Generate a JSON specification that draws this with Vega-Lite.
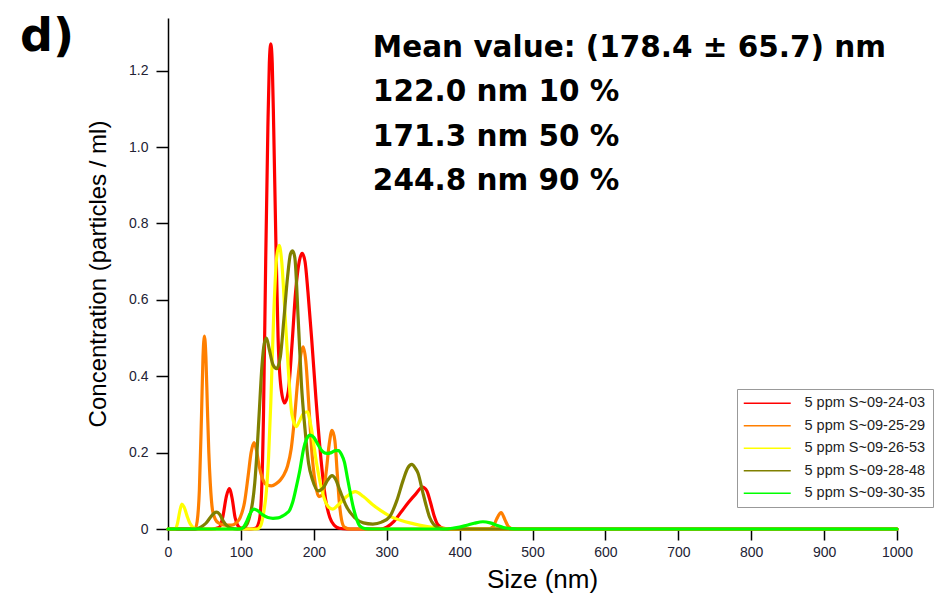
{
  "$schema": "https://vega.github.io/schema/vega-lite/v6.json",
  "width": 729,
  "height": 511,
  "autosize": {"type": "none"},
  "padding": {"left": 168, "top": 18, "right": 38, "bottom": 69},
  "background": "white",
  "title": {"text": "d)", "anchor": "start", "frame": "group", "font": "DejaVu Sans", "fontWeight": "bold", "fontSize": 46, "color": "black", "dx": -148, "dy": 79, "baseline": "alphabetic", "offset": 0},
  "config": {
    "view": {"stroke": null},
    "axis": {"labelFont": "Liberation Sans", "titleFont": "Liberation Sans", "labelFontSize": 14, "titleFontSize": 24, "titleFontWeight": "normal", "labelColor": "#222233", "titleColor": "black", "domainColor": "black", "tickColor": "black", "domainWidth": 1.5, "tickWidth": 1.5, "grid": false}
  },
  "datasets": {
    "curves": [
      {"s": "5 ppm S~09-24-03", "x": 0, "y": 0}, {"s": "5 ppm S~09-24-03", "x": 60, "y": 0}, {"s": "5 ppm S~09-24-03", "x": 70, "y": 0.004}, {"s": "5 ppm S~09-24-03", "x": 75, "y": 0.03}, {"s": "5 ppm S~09-24-03", "x": 80, "y": 0.085}, {"s": "5 ppm S~09-24-03", "x": 84, "y": 0.106}, {"s": "5 ppm S~09-24-03", "x": 88, "y": 0.08}, {"s": "5 ppm S~09-24-03", "x": 92, "y": 0.03}, {"s": "5 ppm S~09-24-03", "x": 96, "y": 0.008}, {"s": "5 ppm S~09-24-03", "x": 100, "y": 0.002}, {"s": "5 ppm S~09-24-03", "x": 112, "y": 0}, {"s": "5 ppm S~09-24-03", "x": 120, "y": 0.002}, {"s": "5 ppm S~09-24-03", "x": 125, "y": 0.02}, {"s": "5 ppm S~09-24-03", "x": 128, "y": 0.08}, {"s": "5 ppm S~09-24-03", "x": 131, "y": 0.3}, {"s": "5 ppm S~09-24-03", "x": 134, "y": 0.7}, {"s": "5 ppm S~09-24-03", "x": 137, "y": 1.05}, {"s": "5 ppm S~09-24-03", "x": 139, "y": 1.22}, {"s": "5 ppm S~09-24-03", "x": 141, "y": 1.27}, {"s": "5 ppm S~09-24-03", "x": 143, "y": 1.22}, {"s": "5 ppm S~09-24-03", "x": 145, "y": 1.05}, {"s": "5 ppm S~09-24-03", "x": 148, "y": 0.75}, {"s": "5 ppm S~09-24-03", "x": 151, "y": 0.5}, {"s": "5 ppm S~09-24-03", "x": 155, "y": 0.37}, {"s": "5 ppm S~09-24-03", "x": 160, "y": 0.33}, {"s": "5 ppm S~09-24-03", "x": 165, "y": 0.36}, {"s": "5 ppm S~09-24-03", "x": 170, "y": 0.48}, {"s": "5 ppm S~09-24-03", "x": 175, "y": 0.62}, {"s": "5 ppm S~09-24-03", "x": 180, "y": 0.7}, {"s": "5 ppm S~09-24-03", "x": 184, "y": 0.722}, {"s": "5 ppm S~09-24-03", "x": 188, "y": 0.7}, {"s": "5 ppm S~09-24-03", "x": 192, "y": 0.62}, {"s": "5 ppm S~09-24-03", "x": 197, "y": 0.5}, {"s": "5 ppm S~09-24-03", "x": 203, "y": 0.34}, {"s": "5 ppm S~09-24-03", "x": 210, "y": 0.18}, {"s": "5 ppm S~09-24-03", "x": 216, "y": 0.08}, {"s": "5 ppm S~09-24-03", "x": 222, "y": 0.03}, {"s": "5 ppm S~09-24-03", "x": 228, "y": 0.01}, {"s": "5 ppm S~09-24-03", "x": 235, "y": 0.002}, {"s": "5 ppm S~09-24-03", "x": 245, "y": 0}, {"s": "5 ppm S~09-24-03", "x": 292, "y": 0}, {"s": "5 ppm S~09-24-03", "x": 300, "y": 0.005}, {"s": "5 ppm S~09-24-03", "x": 310, "y": 0.02}, {"s": "5 ppm S~09-24-03", "x": 320, "y": 0.045}, {"s": "5 ppm S~09-24-03", "x": 330, "y": 0.07}, {"s": "5 ppm S~09-24-03", "x": 340, "y": 0.092}, {"s": "5 ppm S~09-24-03", "x": 349, "y": 0.11}, {"s": "5 ppm S~09-24-03", "x": 355, "y": 0.1}, {"s": "5 ppm S~09-24-03", "x": 360, "y": 0.07}, {"s": "5 ppm S~09-24-03", "x": 365, "y": 0.035}, {"s": "5 ppm S~09-24-03", "x": 370, "y": 0.012}, {"s": "5 ppm S~09-24-03", "x": 378, "y": 0.002}, {"s": "5 ppm S~09-24-03", "x": 390, "y": 0}, {"s": "5 ppm S~09-24-03", "x": 1000, "y": 0},

      {"s": "5 ppm S~09-25-29", "x": 0, "y": 0}, {"s": "5 ppm S~09-25-29", "x": 37, "y": 0}, {"s": "5 ppm S~09-25-29", "x": 40, "y": 0.02}, {"s": "5 ppm S~09-25-29", "x": 43, "y": 0.1}, {"s": "5 ppm S~09-25-29", "x": 46, "y": 0.3}, {"s": "5 ppm S~09-25-29", "x": 48, "y": 0.45}, {"s": "5 ppm S~09-25-29", "x": 50, "y": 0.505}, {"s": "5 ppm S~09-25-29", "x": 52, "y": 0.45}, {"s": "5 ppm S~09-25-29", "x": 54, "y": 0.32}, {"s": "5 ppm S~09-25-29", "x": 56, "y": 0.2}, {"s": "5 ppm S~09-25-29", "x": 58, "y": 0.12}, {"s": "5 ppm S~09-25-29", "x": 61, "y": 0.05}, {"s": "5 ppm S~09-25-29", "x": 65, "y": 0.025}, {"s": "5 ppm S~09-25-29", "x": 70, "y": 0.015}, {"s": "5 ppm S~09-25-29", "x": 78, "y": 0.01}, {"s": "5 ppm S~09-25-29", "x": 87, "y": 0.01}, {"s": "5 ppm S~09-25-29", "x": 93, "y": 0.015}, {"s": "5 ppm S~09-25-29", "x": 99, "y": 0.03}, {"s": "5 ppm S~09-25-29", "x": 105, "y": 0.07}, {"s": "5 ppm S~09-25-29", "x": 110, "y": 0.14}, {"s": "5 ppm S~09-25-29", "x": 114, "y": 0.2}, {"s": "5 ppm S~09-25-29", "x": 118, "y": 0.226}, {"s": "5 ppm S~09-25-29", "x": 121, "y": 0.21}, {"s": "5 ppm S~09-25-29", "x": 125, "y": 0.165}, {"s": "5 ppm S~09-25-29", "x": 130, "y": 0.13}, {"s": "5 ppm S~09-25-29", "x": 136, "y": 0.115}, {"s": "5 ppm S~09-25-29", "x": 142, "y": 0.113}, {"s": "5 ppm S~09-25-29", "x": 148, "y": 0.118}, {"s": "5 ppm S~09-25-29", "x": 154, "y": 0.128}, {"s": "5 ppm S~09-25-29", "x": 159, "y": 0.142}, {"s": "5 ppm S~09-25-29", "x": 164, "y": 0.165}, {"s": "5 ppm S~09-25-29", "x": 169, "y": 0.21}, {"s": "5 ppm S~09-25-29", "x": 174, "y": 0.3}, {"s": "5 ppm S~09-25-29", "x": 178, "y": 0.39}, {"s": "5 ppm S~09-25-29", "x": 182, "y": 0.455}, {"s": "5 ppm S~09-25-29", "x": 185.5, "y": 0.477}, {"s": "5 ppm S~09-25-29", "x": 189, "y": 0.44}, {"s": "5 ppm S~09-25-29", "x": 193, "y": 0.33}, {"s": "5 ppm S~09-25-29", "x": 197, "y": 0.21}, {"s": "5 ppm S~09-25-29", "x": 202, "y": 0.12}, {"s": "5 ppm S~09-25-29", "x": 207, "y": 0.085}, {"s": "5 ppm S~09-25-29", "x": 212, "y": 0.09}, {"s": "5 ppm S~09-25-29", "x": 217, "y": 0.15}, {"s": "5 ppm S~09-25-29", "x": 221, "y": 0.22}, {"s": "5 ppm S~09-25-29", "x": 225, "y": 0.258}, {"s": "5 ppm S~09-25-29", "x": 229, "y": 0.23}, {"s": "5 ppm S~09-25-29", "x": 232, "y": 0.15}, {"s": "5 ppm S~09-25-29", "x": 235, "y": 0.07}, {"s": "5 ppm S~09-25-29", "x": 238, "y": 0.025}, {"s": "5 ppm S~09-25-29", "x": 242, "y": 0.005}, {"s": "5 ppm S~09-25-29", "x": 250, "y": 0}, {"s": "5 ppm S~09-25-29", "x": 440, "y": 0}, {"s": "5 ppm S~09-25-29", "x": 446, "y": 0.006}, {"s": "5 ppm S~09-25-29", "x": 451, "y": 0.027}, {"s": "5 ppm S~09-25-29", "x": 457, "y": 0.043}, {"s": "5 ppm S~09-25-29", "x": 462, "y": 0.025}, {"s": "5 ppm S~09-25-29", "x": 467, "y": 0.006}, {"s": "5 ppm S~09-25-29", "x": 473, "y": 0}, {"s": "5 ppm S~09-25-29", "x": 1000, "y": 0},

      {"s": "5 ppm S~09-26-53", "x": 0, "y": 0}, {"s": "5 ppm S~09-26-53", "x": 10, "y": 0}, {"s": "5 ppm S~09-26-53", "x": 13, "y": 0.015}, {"s": "5 ppm S~09-26-53", "x": 16, "y": 0.045}, {"s": "5 ppm S~09-26-53", "x": 19, "y": 0.065}, {"s": "5 ppm S~09-26-53", "x": 22, "y": 0.058}, {"s": "5 ppm S~09-26-53", "x": 26, "y": 0.035}, {"s": "5 ppm S~09-26-53", "x": 30, "y": 0.015}, {"s": "5 ppm S~09-26-53", "x": 34, "y": 0.005}, {"s": "5 ppm S~09-26-53", "x": 40, "y": 0}, {"s": "5 ppm S~09-26-53", "x": 122, "y": 0}, {"s": "5 ppm S~09-26-53", "x": 127, "y": 0.008}, {"s": "5 ppm S~09-26-53", "x": 131, "y": 0.04}, {"s": "5 ppm S~09-26-53", "x": 135, "y": 0.1}, {"s": "5 ppm S~09-26-53", "x": 138, "y": 0.19}, {"s": "5 ppm S~09-26-53", "x": 141, "y": 0.33}, {"s": "5 ppm S~09-26-53", "x": 145, "y": 0.56}, {"s": "5 ppm S~09-26-53", "x": 149, "y": 0.71}, {"s": "5 ppm S~09-26-53", "x": 152.6, "y": 0.743}, {"s": "5 ppm S~09-26-53", "x": 156, "y": 0.7}, {"s": "5 ppm S~09-26-53", "x": 160, "y": 0.58}, {"s": "5 ppm S~09-26-53", "x": 165, "y": 0.42}, {"s": "5 ppm S~09-26-53", "x": 170, "y": 0.3}, {"s": "5 ppm S~09-26-53", "x": 176, "y": 0.268}, {"s": "5 ppm S~09-26-53", "x": 181, "y": 0.285}, {"s": "5 ppm S~09-26-53", "x": 186, "y": 0.303}, {"s": "5 ppm S~09-26-53", "x": 191, "y": 0.307}, {"s": "5 ppm S~09-26-53", "x": 196, "y": 0.27}, {"s": "5 ppm S~09-26-53", "x": 204, "y": 0.17}, {"s": "5 ppm S~09-26-53", "x": 210, "y": 0.11}, {"s": "5 ppm S~09-26-53", "x": 215, "y": 0.076}, {"s": "5 ppm S~09-26-53", "x": 220, "y": 0.058}, {"s": "5 ppm S~09-26-53", "x": 226, "y": 0.052}, {"s": "5 ppm S~09-26-53", "x": 233, "y": 0.062}, {"s": "5 ppm S~09-26-53", "x": 245, "y": 0.085}, {"s": "5 ppm S~09-26-53", "x": 257, "y": 0.098}, {"s": "5 ppm S~09-26-53", "x": 268, "y": 0.085}, {"s": "5 ppm S~09-26-53", "x": 280, "y": 0.065}, {"s": "5 ppm S~09-26-53", "x": 292, "y": 0.048}, {"s": "5 ppm S~09-26-53", "x": 305, "y": 0.033}, {"s": "5 ppm S~09-26-53", "x": 320, "y": 0.022}, {"s": "5 ppm S~09-26-53", "x": 336, "y": 0.014}, {"s": "5 ppm S~09-26-53", "x": 350, "y": 0.008}, {"s": "5 ppm S~09-26-53", "x": 365, "y": 0.004}, {"s": "5 ppm S~09-26-53", "x": 380, "y": 0.001}, {"s": "5 ppm S~09-26-53", "x": 400, "y": 0}, {"s": "5 ppm S~09-26-53", "x": 1000, "y": 0},

      {"s": "5 ppm S~09-28-48", "x": 0, "y": 0}, {"s": "5 ppm S~09-28-48", "x": 38, "y": 0}, {"s": "5 ppm S~09-28-48", "x": 45, "y": 0.005}, {"s": "5 ppm S~09-28-48", "x": 52, "y": 0.015}, {"s": "5 ppm S~09-28-48", "x": 58, "y": 0.03}, {"s": "5 ppm S~09-28-48", "x": 63, "y": 0.041}, {"s": "5 ppm S~09-28-48", "x": 67, "y": 0.044}, {"s": "5 ppm S~09-28-48", "x": 71, "y": 0.038}, {"s": "5 ppm S~09-28-48", "x": 76, "y": 0.02}, {"s": "5 ppm S~09-28-48", "x": 81, "y": 0.008}, {"s": "5 ppm S~09-28-48", "x": 87, "y": 0.002}, {"s": "5 ppm S~09-28-48", "x": 95, "y": 0}, {"s": "5 ppm S~09-28-48", "x": 104, "y": 0.004}, {"s": "5 ppm S~09-28-48", "x": 109, "y": 0.015}, {"s": "5 ppm S~09-28-48", "x": 113, "y": 0.04}, {"s": "5 ppm S~09-28-48", "x": 116, "y": 0.07}, {"s": "5 ppm S~09-28-48", "x": 119, "y": 0.12}, {"s": "5 ppm S~09-28-48", "x": 122, "y": 0.2}, {"s": "5 ppm S~09-28-48", "x": 125, "y": 0.3}, {"s": "5 ppm S~09-28-48", "x": 129, "y": 0.43}, {"s": "5 ppm S~09-28-48", "x": 132, "y": 0.485}, {"s": "5 ppm S~09-28-48", "x": 135, "y": 0.5}, {"s": "5 ppm S~09-28-48", "x": 139, "y": 0.47}, {"s": "5 ppm S~09-28-48", "x": 144, "y": 0.43}, {"s": "5 ppm S~09-28-48", "x": 149, "y": 0.42}, {"s": "5 ppm S~09-28-48", "x": 154, "y": 0.45}, {"s": "5 ppm S~09-28-48", "x": 159, "y": 0.55}, {"s": "5 ppm S~09-28-48", "x": 164, "y": 0.66}, {"s": "5 ppm S~09-28-48", "x": 168, "y": 0.72}, {"s": "5 ppm S~09-28-48", "x": 171, "y": 0.728}, {"s": "5 ppm S~09-28-48", "x": 174, "y": 0.71}, {"s": "5 ppm S~09-28-48", "x": 178.6, "y": 0.55}, {"s": "5 ppm S~09-28-48", "x": 183, "y": 0.38}, {"s": "5 ppm S~09-28-48", "x": 188, "y": 0.26}, {"s": "5 ppm S~09-28-48", "x": 193, "y": 0.17}, {"s": "5 ppm S~09-28-48", "x": 198, "y": 0.13}, {"s": "5 ppm S~09-28-48", "x": 206, "y": 0.1}, {"s": "5 ppm S~09-28-48", "x": 213, "y": 0.108}, {"s": "5 ppm S~09-28-48", "x": 219, "y": 0.128}, {"s": "5 ppm S~09-28-48", "x": 225, "y": 0.14}, {"s": "5 ppm S~09-28-48", "x": 230, "y": 0.13}, {"s": "5 ppm S~09-28-48", "x": 236, "y": 0.1}, {"s": "5 ppm S~09-28-48", "x": 245, "y": 0.058}, {"s": "5 ppm S~09-28-48", "x": 256, "y": 0.03}, {"s": "5 ppm S~09-28-48", "x": 268, "y": 0.016}, {"s": "5 ppm S~09-28-48", "x": 281, "y": 0.013}, {"s": "5 ppm S~09-28-48", "x": 293, "y": 0.018}, {"s": "5 ppm S~09-28-48", "x": 304, "y": 0.032}, {"s": "5 ppm S~09-28-48", "x": 314, "y": 0.075}, {"s": "5 ppm S~09-28-48", "x": 322.6, "y": 0.128}, {"s": "5 ppm S~09-28-48", "x": 329, "y": 0.16}, {"s": "5 ppm S~09-28-48", "x": 334.5, "y": 0.169}, {"s": "5 ppm S~09-28-48", "x": 339, "y": 0.16}, {"s": "5 ppm S~09-28-48", "x": 343, "y": 0.146}, {"s": "5 ppm S~09-28-48", "x": 349, "y": 0.1}, {"s": "5 ppm S~09-28-48", "x": 354.6, "y": 0.058}, {"s": "5 ppm S~09-28-48", "x": 359, "y": 0.03}, {"s": "5 ppm S~09-28-48", "x": 364, "y": 0.013}, {"s": "5 ppm S~09-28-48", "x": 370, "y": 0.004}, {"s": "5 ppm S~09-28-48", "x": 378, "y": 0}, {"s": "5 ppm S~09-28-48", "x": 1000, "y": 0},

      {"s": "5 ppm S~09-30-35", "x": 0, "y": 0}, {"s": "5 ppm S~09-30-35", "x": 99, "y": 0}, {"s": "5 ppm S~09-30-35", "x": 104, "y": 0.006}, {"s": "5 ppm S~09-30-35", "x": 108, "y": 0.02}, {"s": "5 ppm S~09-30-35", "x": 113, "y": 0.042}, {"s": "5 ppm S~09-30-35", "x": 118, "y": 0.052}, {"s": "5 ppm S~09-30-35", "x": 123, "y": 0.048}, {"s": "5 ppm S~09-30-35", "x": 130, "y": 0.037}, {"s": "5 ppm S~09-30-35", "x": 137, "y": 0.03}, {"s": "5 ppm S~09-30-35", "x": 144, "y": 0.028}, {"s": "5 ppm S~09-30-35", "x": 151, "y": 0.029}, {"s": "5 ppm S~09-30-35", "x": 157, "y": 0.034}, {"s": "5 ppm S~09-30-35", "x": 162, "y": 0.04}, {"s": "5 ppm S~09-30-35", "x": 167, "y": 0.05}, {"s": "5 ppm S~09-30-35", "x": 171, "y": 0.07}, {"s": "5 ppm S~09-30-35", "x": 176, "y": 0.11}, {"s": "5 ppm S~09-30-35", "x": 181, "y": 0.155}, {"s": "5 ppm S~09-30-35", "x": 186, "y": 0.21}, {"s": "5 ppm S~09-30-35", "x": 190, "y": 0.235}, {"s": "5 ppm S~09-30-35", "x": 195, "y": 0.246}, {"s": "5 ppm S~09-30-35", "x": 200, "y": 0.24}, {"s": "5 ppm S~09-30-35", "x": 206, "y": 0.22}, {"s": "5 ppm S~09-30-35", "x": 212, "y": 0.203}, {"s": "5 ppm S~09-30-35", "x": 218, "y": 0.198}, {"s": "5 ppm S~09-30-35", "x": 224, "y": 0.2}, {"s": "5 ppm S~09-30-35", "x": 230, "y": 0.205}, {"s": "5 ppm S~09-30-35", "x": 234, "y": 0.205}, {"s": "5 ppm S~09-30-35", "x": 238, "y": 0.195}, {"s": "5 ppm S~09-30-35", "x": 242, "y": 0.175}, {"s": "5 ppm S~09-30-35", "x": 246, "y": 0.135}, {"s": "5 ppm S~09-30-35", "x": 250, "y": 0.095}, {"s": "5 ppm S~09-30-35", "x": 254, "y": 0.058}, {"s": "5 ppm S~09-30-35", "x": 258, "y": 0.03}, {"s": "5 ppm S~09-30-35", "x": 263, "y": 0.008}, {"s": "5 ppm S~09-30-35", "x": 270, "y": 0.001}, {"s": "5 ppm S~09-30-35", "x": 280, "y": 0}, {"s": "5 ppm S~09-30-35", "x": 380, "y": 0}, {"s": "5 ppm S~09-30-35", "x": 390, "y": 0.002}, {"s": "5 ppm S~09-30-35", "x": 400, "y": 0.005}, {"s": "5 ppm S~09-30-35", "x": 410, "y": 0.01}, {"s": "5 ppm S~09-30-35", "x": 420, "y": 0.015}, {"s": "5 ppm S~09-30-35", "x": 432, "y": 0.019}, {"s": "5 ppm S~09-30-35", "x": 442, "y": 0.016}, {"s": "5 ppm S~09-30-35", "x": 452, "y": 0.009}, {"s": "5 ppm S~09-30-35", "x": 460, "y": 0.004}, {"s": "5 ppm S~09-30-35", "x": 470, "y": 0.001}, {"s": "5 ppm S~09-30-35", "x": 480, "y": 0}, {"s": "5 ppm S~09-30-35", "x": 1000, "y": 0}
    ],
    "stats": [
      {"lines": ["Mean value: (178.4 ± 65.7) nm", "122.0 nm 10 %", "171.3 nm 50 %", "244.8 nm 90 %"]}
    ]
  },
  "layer": [
    {
      "data": {"name": "curves"},
      "mark": {"type": "line", "interpolate": "monotone", "strokeWidth": 3.2, "strokeJoin": "round", "strokeCap": "round"},
      "encoding": {
        "x": {"field": "x", "type": "quantitative", "scale": {"domain": [0, 1000], "nice": false}, "axis": {"title": "Size (nm)", "format": "d", "values": [0, 100, 200, 300, 400, 500, 600, 700, 800, 900, 1000], "tickSize": 11, "labelPadding": 5, "titlePadding": 7, "titleFontSize": 26, "titleX": 374, "labelFlush": false}},
        "y": {"field": "y", "type": "quantitative", "scale": {"domain": [0, 1.338], "nice": false, "zero": true}, "axis": {"title": "Concentration (particles / ml)", "values": [0, 0.2, 0.4, 0.6, 0.8, 1.0, 1.2], "labelExpr": "datum.value == 0 ? '0' : format(datum.value, '.1f')", "tickSize": 12, "labelPadding": 8, "titlePadding": 18}},
        "color": {"field": "s", "type": "nominal", "sort": null,
          "scale": {"domain": ["5 ppm S~09-24-03", "5 ppm S~09-25-29", "5 ppm S~09-26-53", "5 ppm S~09-28-48", "5 ppm S~09-30-35"], "range": ["#ff0000", "#ff7f00", "#ffff00", "#808000", "#00ff00"]},
          "legend": {"title": null, "orient": "none", "legendX": 569, "legendY": 371, "strokeColor": "#999999", "fillColor": "white", "padding": 7, "symbolType": "M-4,0H4", "symbolSize": 138, "symbolStrokeWidth": 1.5, "symbolOffset": 16, "labelOffset": 30, "labelFont": "Liberation Sans", "labelFontSize": 14.5, "labelColor": "#222222", "rowPadding": 7.5}
        }
      }
    },
    {
      "data": {"name": "stats"},
      "mark": {"type": "text", "align": "left", "baseline": "alphabetic", "font": "DejaVu Sans", "fontWeight": "bold", "fontSize": 29.5, "lineHeight": 44.5, "color": "black"},
      "encoding": {
        "x": {"datum": 281},
        "y": {"datum": 1.236},
        "text": {"field": "lines"}
      }
    }
  ]
}
